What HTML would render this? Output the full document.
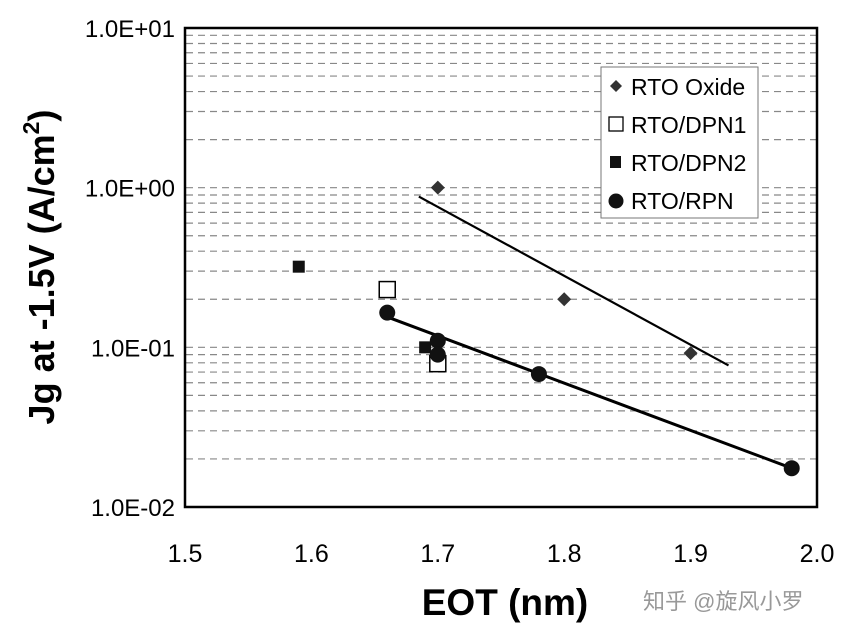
<!DOCTYPE html>
<html><head><meta charset="utf-8"><style>
body{margin:0;background:#fff}
svg text{font-family:"Liberation Sans","Noto Sans CJK SC",sans-serif}
</style></head><body>
<svg id="c" width="850" height="632" viewBox="0 0 850 632" xmlns="http://www.w3.org/2000/svg">
<g id="grid"></g>
<g id="ticks"></g>
<g id="lines"></g>
<g id="marks"></g>
<rect x="185" y="28" width="632" height="479" fill="none" stroke="#000" stroke-width="2.5"/>
<text x="0" y="0" transform="translate(54,267) rotate(-90)" text-anchor="middle" font-size="36" font-weight="bold">Jg at -1.5V (A/cm<tspan font-size="23" dy="-15">2</tspan><tspan dy="15">)</tspan></text>
<text x="505" y="615" text-anchor="middle" font-size="37" font-weight="bold">EOT (nm)</text>
<g>
<rect x="601" y="67" width="157" height="151" fill="#fff" stroke="#777" stroke-width="1"/>
<path d="M616 80 l6 6 -6 6 -6 -6z" fill="#333"/>
<text x="631" y="95" font-size="23">RTO Oxide</text>
<rect x="609" y="117" width="14" height="14" fill="#fff" stroke="#000" stroke-width="1.3"/>
<text x="631" y="133" font-size="23">RTO/DPN1</text>
<rect x="610" y="156" width="11" height="12" fill="#111"/>
<text x="631" y="171" font-size="23">RTO/DPN2</text>
<circle cx="616" cy="201" r="7.5" fill="#111"/>
<text x="631" y="209" font-size="23">RTO/RPN</text>
</g>
<text x="643" y="609" font-size="22" fill="#999">知乎 @旋风小罗</text>
<script>
const xTicks=[1.5,1.6,1.7,1.8,1.9,2.0];
const xTickLabels=["1.5","1.6","1.7","1.8","1.9","2.0"];
const yTicks=[10,1,0.1,0.01];
const yTickLabels=["1.0E+01","1.0E+00","1.0E-01","1.0E-02"];
const oxideX=[1.7,1.8,1.9];
const oxideY=[1.0,0.2,0.092];
const dpn1X=[1.66,1.70];
const dpn1Y=[0.23,0.079];
const dpn2X=[1.59,1.69];
const dpn2Y=[0.32,0.10];
const rpnX=[1.66,1.70,1.70,1.78,1.98];
const rpnY=[0.165,0.11,0.09,0.068,0.0175];
const oxideFitX=[1.685,1.93];
const oxideFitY=[0.88,0.077];
const rpnFitX=[1.66,1.98];
const rpnFitY=[0.155,0.0175];
const NS='http://www.w3.org/2000/svg';
const X=v=>185+(v-1.5)/0.5*632;
const Y=v=>28+(1-Math.log10(v))/3*479;
function mk(p,t,a){const e=document.createElementNS(NS,t);for(const k in a)e.setAttribute(k,a[k]);document.getElementById(p).appendChild(e);return e;}
for(let d=-2;d<1;d++){for(let m=1;m<=9;m++){const v=m*Math.pow(10,d);if(d===-2&&m===1)continue;
const l=mk('grid','line',{x1:186,x2:816,y1:Y(v),y2:Y(v),stroke:'#888','stroke-width':1.2,'stroke-dasharray':'7,5'});

}}
xTicks.forEach((v,i)=>{const t=mk('ticks','text',{x:X(v),y:562,'text-anchor':'middle','font-size':25});t.textContent=xTickLabels[i];

});
yTicks.forEach((v,i)=>{const t=mk('ticks','text',{x:175,y:Y(v)+9,'text-anchor':'end','font-size':24});t.textContent=yTickLabels[i];

});
const f1=mk('lines','line',{x1:X(oxideFitX[0]),y1:Y(oxideFitY[0]),x2:X(oxideFitX[1]),y2:Y(oxideFitY[1]),stroke:'#000','stroke-width':2.2});


const f2=mk('lines','line',{x1:X(rpnFitX[0]),y1:Y(rpnFitY[0]),x2:X(rpnFitX[1]),y2:Y(rpnFitY[1]),stroke:'#000','stroke-width':3});


oxideX.forEach((v,i)=>{const x=X(v),y=Y(oxideY[i]);const e=mk('marks','path',{d:`M${x} ${y-7}l7 7-7 7-7-7z`,fill:'#333'});

});
dpn1X.forEach((v,i)=>{const e=mk('marks','rect',{x:X(v)-8,y:Y(dpn1Y[i])-8,width:16,height:16,fill:'#fff',stroke:'#000','stroke-width':1.5});

});
dpn2X.forEach((v,i)=>{const e=mk('marks','rect',{x:X(v)-6,y:Y(dpn2Y[i])-6,width:12,height:12,fill:'#111'});

});
rpnX.forEach((v,i)=>{const e=mk('marks','circle',{cx:X(v),cy:Y(rpnY[i]),r:8,fill:'#111'});

});
</script>
</svg>
</body></html>
